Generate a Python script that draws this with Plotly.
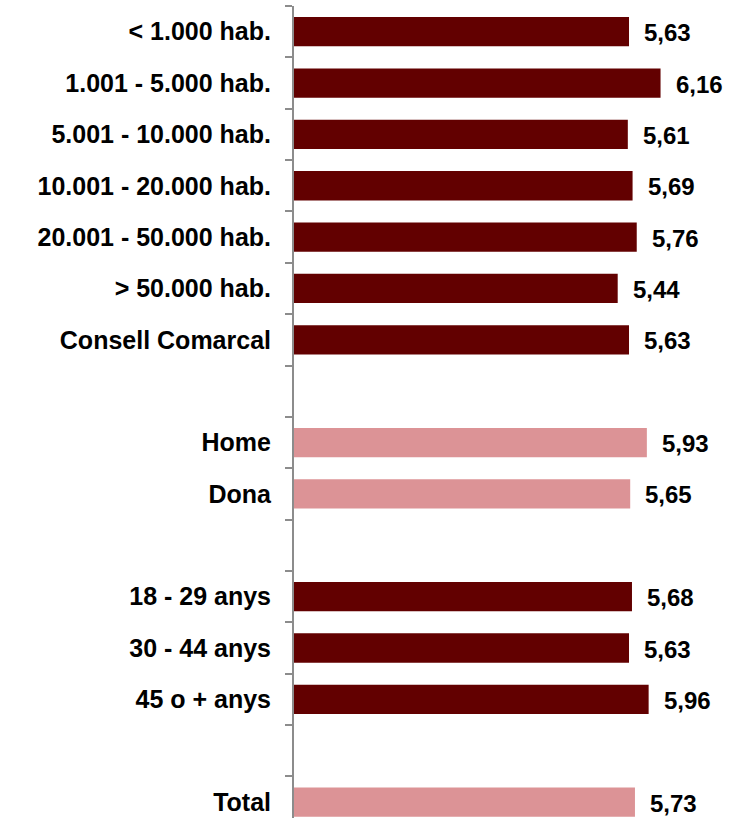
import plotly.graph_objects as go

categories = ["< 1.000 hab.", "1.001 - 5.000 hab.", "5.001 - 10.000 hab.",
              "10.001 - 20.000 hab.", "20.001 - 50.000 hab.", "> 50.000 hab.",
              "Consell Comarcal", " ", "Home", "Dona", "  ",
              "18 - 29 anys", "30 - 44 anys", "45 o + anys", "   ", "Total"]
values = [5.63, 6.16, 5.61, 5.69, 5.76, 5.44, 5.63, None,
          5.93, 5.65, None, 5.68, 5.63, 5.96, None, 5.73]
groups = ["dark"] * 7 + [None] + ["light"] * 2 + [None] + ["dark"] * 3 + [None] + ["light"]

palette = {"dark": "#620000", "light": "#DC9396", None: "#ffffff"}
colors = [palette[g] for g in groups]

FONT = "Liberation Sans, Arial, sans-serif"

fig = go.Figure()
fig.add_trace(go.Bar(
    y=categories, x=[v if v is not None else 0 for v in values],
    orientation="h", marker=dict(color=colors, line=dict(width=0)),
    width=0.57, hoverinfo="skip",
))

for c, v in zip(categories, values):
    if v is None:
        continue
    fig.add_annotation(
        x=v, y=c, text="<b>%s</b>" % f"{v:.2f}".replace(".", ","),
        showarrow=False, xanchor="left", yanchor="middle",
        xshift=13, yshift=-1,
        font=dict(family=FONT, size=24, color="#000000"),
    )

fig.update_layout(
    width=736, height=818,
    margin=dict(l=294, r=10, t=6, b=0),
    paper_bgcolor="white", plot_bgcolor="white",
    showlegend=False,
    bargap=0.43,
)
fig.update_xaxes(range=[0, 7.26], showgrid=False, zeroline=False,
                 showticklabels=False, showline=False, ticks="")
fig.update_yaxes(
    type="category", categoryorder="array", categoryarray=categories,
    range=[15.31, -0.5],
    showgrid=False, zeroline=False,
    showline=True, linecolor="#8c8c8c", linewidth=2,
    ticks="outside", tickson="boundaries", ticklen=7, tickcolor="#8c8c8c", tickwidth=2,
    tickfont=dict(family=FONT, size=25, color="#000000", weight="bold"),
    ticklabelstandoff=16,
)

fig.write_html("out.html", config={"displayModeBar": False},
               post_script="document.body.style.margin='0';")
